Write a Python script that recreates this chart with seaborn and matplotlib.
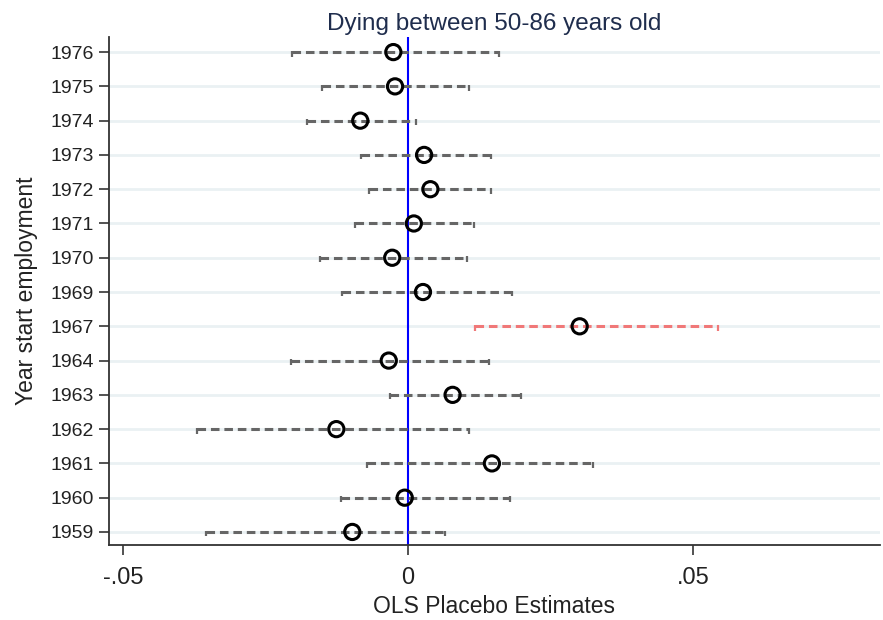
import matplotlib
matplotlib.use("Agg")
import matplotlib.pyplot as plt
import seaborn as sns
import pandas as pd
import numpy as np

# Placebo estimates by year of employment start, with 95% confidence bounds
years = ["1959", "1960", "1961", "1962", "1963", "1964", "1967",
         "1969", "1970", "1971", "1972", "1973", "1974", "1975", "1976"]
estimate = [-0.0098, -0.0006, 0.0147, -0.0126, 0.0078, -0.0034, 0.0301,
            0.0026, -0.0028, 0.0010, 0.0039, 0.0028, -0.0084, -0.0023, -0.0026]
ci_low = [-0.0354, -0.0118, -0.0072, -0.0371, -0.0032, -0.0205, 0.0117,
          -0.0116, -0.0155, -0.0093, -0.0069, -0.0083, -0.0177, -0.0152, -0.0203]
ci_high = [0.0064, 0.0178, 0.0325, 0.0107, 0.0198, 0.0142, 0.0543,
           0.0182, 0.0103, 0.0116, 0.0146, 0.0145, 0.0013, 0.0107, 0.0159]
highlight_year = "1967"
x_ticks = [-0.05, 0.0, 0.05]
x_tick_labels = ["-.05", "0", ".05"]

df = pd.DataFrame({"year": years, "est": estimate, "lo": ci_low, "hi": ci_high})
df["pos"] = np.arange(len(df))

sns.set_style("white")
plt.rcParams["font.family"] = ["Liberation Sans", "DejaVu Sans"]

fig, ax = plt.subplots(figsize=(8.83, 6.20), dpi=100)
fig.subplots_adjust(left=0.1234, right=0.9966, top=0.9403, bottom=0.121)

# light horizontal guides at each row
for p in df["pos"]:
    ax.axhline(p, color="#eaf1f3", lw=2.0, zorder=0)

# reference line at zero
ax.axvline(0, color="#0000ff", lw=1.5, zorder=2)

# dashed confidence intervals with small caps
for _, r in df.iterrows():
    col = "#f07878" if r["year"] == highlight_year else "#666666"
    ax.hlines(r["pos"], r["lo"], r["hi"], colors=col, lw=2.2,
              linestyles=(0, (2.8, 1.6)), zorder=3)
    ax.vlines([r["lo"], r["hi"]], r["pos"] - 0.13, r["pos"] + 0.04,
              colors=col, lw=1.6, zorder=3)

sns.scatterplot(data=df, x="est", y="pos", ax=ax, marker="o", s=120,
                facecolor="none", edgecolor="black", linewidth=2.2, zorder=5,
                legend=False)

ax.set_xlim(-0.0525, 0.0828)
ax.set_ylim(-0.38, len(df) - 1 + 0.44)
ax.set_yticks(df["pos"])
ax.set_yticklabels(years, fontsize=14, color="#222222")
ax.set_xticks(x_ticks)
ax.set_xticklabels(x_tick_labels, fontsize=17, color="#222222")

ax.tick_params(axis="both", direction="out", length=7, width=1.3,
               color="#444444", left=True, bottom=True)
ax.tick_params(axis="x", pad=9)
ax.tick_params(axis="y", pad=4)

for side in ["top", "right"]:
    ax.spines[side].set_visible(False)
for side in ["left", "bottom"]:
    ax.spines[side].set_color("#333333")
    ax.spines[side].set_linewidth(1.3)

ax.set_xlabel("OLS Placebo Estimates", fontsize=16.5, color="#222222", labelpad=4)
ax.set_ylabel("Year start employment", fontsize=16.5, color="#222222", labelpad=9)
ax.set_title("Dying between 50-86 years old", fontsize=17.5, color="#1f2d4d", pad=5)

fig.savefig("out.png", dpi=100)
